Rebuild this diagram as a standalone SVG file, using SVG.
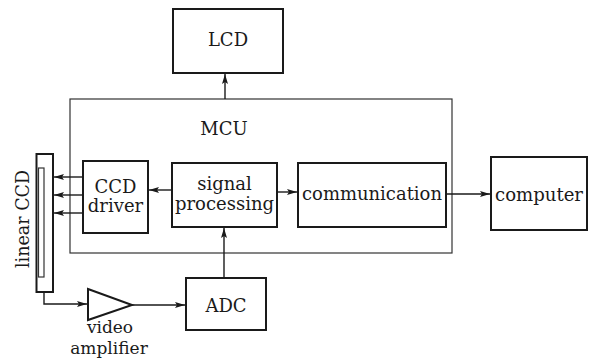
<svg xmlns="http://www.w3.org/2000/svg" width="590" height="358" viewBox="0 0 590 358">
  <style>
    .box { fill: none; stroke: #1a1a1a; stroke-width: 2; }
    .thin { fill: none; stroke: #333; stroke-width: 1.2; }
    .wire { fill: none; stroke: #1a1a1a; stroke-width: 1.4; }
    text { font-family: "DejaVu Serif", "Liberation Serif", serif; font-size: 18px; fill: #1a1a1a; text-anchor: middle; }
    .small { font-size: 17px; }
  </style>
  <defs>
    <marker id="arr" viewBox="0 0 10 6" refX="10" refY="3" markerWidth="10" markerHeight="6" markerUnits="userSpaceOnUse" orient="auto">
      <path d="M0,0 L10,3 L0,6 L2,3 Z" fill="#1a1a1a"/>
    </marker>
  </defs>
  <rect width="590" height="358" fill="#fff"/>

  <g id="mcu">
    <rect class="thin" x="70" y="99" width="382" height="154"/>
    <text x="224" y="135">MCU</text>
  </g>

  <g id="lcd">
    <rect class="box" x="173" y="9" width="110" height="64"/>
    <text x="228" y="46">LCD</text>
  </g>

  <g id="ccd-driver">
    <rect class="box" x="83" y="161" width="65" height="72"/>
    <text x="115.5" y="193">CCD</text>
    <text x="115.5" y="212">driver</text>
  </g>

  <g id="signal-processing">
    <rect class="box" x="172" y="163" width="105" height="64"/>
    <text x="224.5" y="190">signal</text>
    <text x="224.5" y="210">processing</text>
  </g>

  <g id="communication">
    <rect class="box" x="298" y="163" width="148" height="64"/>
    <text x="372" y="200" textLength="140" lengthAdjust="spacingAndGlyphs">communication</text>
  </g>

  <g id="computer">
    <rect class="box" x="491" y="157" width="96" height="73"/>
    <text x="539" y="201" textLength="88" lengthAdjust="spacingAndGlyphs">computer</text>
  </g>

  <g id="linear-ccd">
    <rect class="box" x="36.5" y="154" width="16.5" height="138"/>
    <rect class="thin" x="38.5" y="168" width="5.5" height="109"/>
    <text transform="translate(29 219) rotate(-90)" textLength="98" lengthAdjust="spacingAndGlyphs">linear CCD</text>
  </g>

  <g id="video-amplifier">
    <path class="box" d="M88,289 L132,305 L88,320 Z" stroke-linejoin="miter"/>
    <text class="small" x="110" y="333">video</text>
    <text class="small" x="109" y="354">amplifier</text>
  </g>

  <g id="adc">
    <rect class="box" x="186" y="278" width="80" height="52"/>
    <text x="226" y="312">ADC</text>
  </g>

  <g id="connectors">
    <line class="wire" x1="225" y1="99" x2="225" y2="74" marker-end="url(#arr)"/>
    <line class="wire" x1="172" y1="190" x2="149" y2="190" marker-end="url(#arr)"/>
    <line class="wire" x1="277" y1="192" x2="297" y2="192" marker-end="url(#arr)"/>
    <line class="wire" x1="446" y1="194" x2="490" y2="194" marker-end="url(#arr)"/>
    <line class="wire" x1="83" y1="177" x2="54" y2="177" marker-end="url(#arr)"/>
    <line class="wire" x1="83" y1="195" x2="54" y2="195" marker-end="url(#arr)"/>
    <line class="wire" x1="83" y1="213" x2="54" y2="213" marker-end="url(#arr)"/>
    <polyline class="wire" points="44,292 44,304 87,304" marker-end="url(#arr)"/>
    <line class="wire" x1="132" y1="305" x2="185" y2="305" marker-end="url(#arr)"/>
    <line class="wire" x1="224" y1="278" x2="224" y2="228" marker-end="url(#arr)"/>
  </g>
</svg>
